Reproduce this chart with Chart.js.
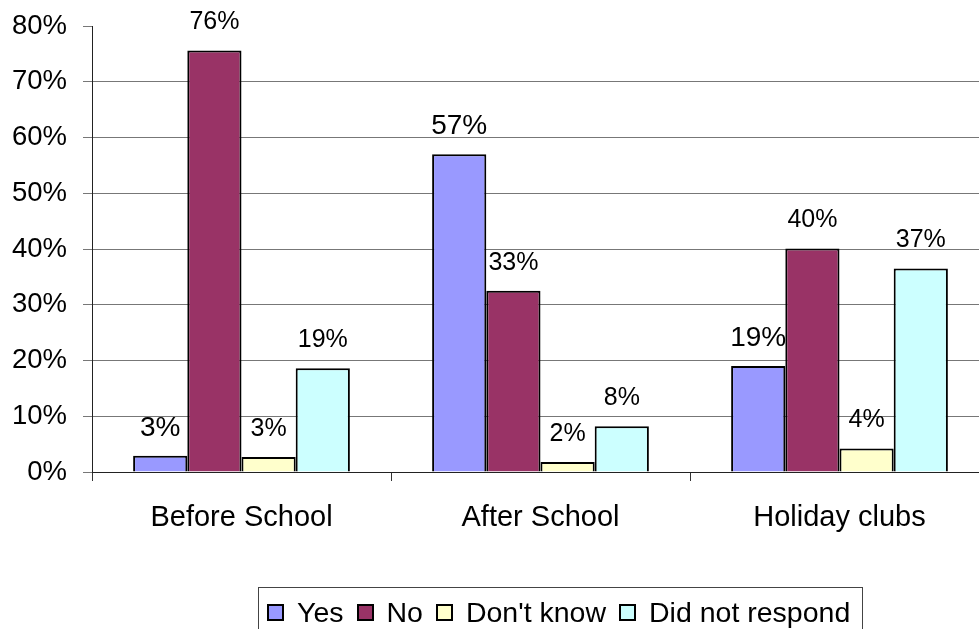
<!DOCTYPE html>
<html>
<head>
<meta charset="utf-8">
<script src="https://cdn.jsdelivr.net/npm/chart.js@4/dist/chart.umd.min.js"></script>
<style>
  html, body { margin: 0; padding: 0; background: #fff; overflow: hidden; }
  #wrap { position: relative; width: 979px; height: 629px; overflow: hidden; }
  #chart { display: block; }
  #legend {
    position: absolute; left: 258px; top: 587px; height: 48px;
    border: 1px solid #444; padding: 0 12px 0 8px;
    display: flex; align-items: center;
    font-family: "Liberation Sans", Arial, sans-serif; font-size: 28.5px; color: #000;
  }
  #legend .item { display: flex; align-items: center; margin-right: 13px; }
  #legend .item:last-child { margin-right: 0; }
  #legend .box { width: 13px; height: 13px; border: 2px solid #000; margin-right: 13px; }
</style>
</head>
<body>
<div id="wrap">
  <canvas id="chart" width="992" height="629"></canvas>
  <div id="legend"></div>
</div>
<script>
// data (percent)
const categories = ["Before School", "After School", "Holiday clubs"];
const seriesNames = ["Yes", "No", "Don't know", "Did not respond"];
const yesValues = [2.9, 57.0, 19.0];
const noValues = [75.6, 32.5, 40.1];
const dontKnowValues = [2.7, 1.8, 4.2];
const noResponseValues = [18.6, 8.2, 36.5];
const yTicks = [0, 10, 20, 30, 40, 50, 60, 70, 80];

const colours = ["#9999FF", "#993366", "#FFFFCC", "#CCFFFF"];
const labelSizes = [28, 25, 25, 25];
const font = '"Liberation Sans", Arial, sans-serif';

const allValues = [yesValues, noValues, dontKnowValues, noResponseValues];

// percent labels above each bar
const barLabels = {
  id: "barLabels",
  afterDatasetsDraw(chart) {
    const ctx = chart.ctx;
    ctx.save();
    ctx.fillStyle = "#000";
    ctx.textAlign = "center";
    ctx.textBaseline = "middle";
    chart.data.datasets.forEach((ds, i) => {
      ctx.font = labelSizes[i] + "px " + font;
      chart.getDatasetMeta(i).data.forEach((bar, j) => {
        ctx.fillText(Math.round(ds.data[j]) + "%", bar.x, bar.y - 28);
      });
    });
    ctx.restore();
  }
};

const chart = new Chart(document.getElementById("chart"), {
  type: "bar",
  data: {
    labels: categories,
    datasets: seriesNames.map((name, i) => ({
      label: name,
      data: allValues[i],
      backgroundColor: colours[i],
      borderColor: "#000",
      borderWidth: 2,
      categoryPercentage: 0.725,
      barPercentage: 1.0
    }))
  },
  options: {
    responsive: false,
    devicePixelRatio: 1,
    animation: false,
    layout: { padding: { top: 26, right: 3, left: 0, bottom: 0 } },
    plugins: {
      legend: { display: false },
      tooltip: { enabled: false }
    },
    scales: {
      x: {
        afterFit: (s) => {
          s.height = 157;
          s.paddingLeft = 0;
          s.paddingRight = 0;
        },
        border: { color: "#222", width: 1 },
        grid: {
          offset: true,
          drawOnChartArea: false,
          tickLength: 9,
          tickColor: "#333"
        },
        ticks: {
          color: "#000",
          padding: 20,
          maxRotation: 0,
          font: { family: font, size: 29 }
        }
      },
      y: {
        min: 0,
        max: 80,
        afterFit: (s) => {
          s.width = 92;
          s.paddingTop = 0;
          s.paddingBottom = 0;
        },
        afterBuildTicks: (s) => { s.ticks = yTicks.map(v => ({ value: v })); },
        border: { color: "#222", width: 1 },
        grid: {
          color: (c) => (c.tick && c.tick.value === 80) ? "rgba(0,0,0,0)" : "#777",
          tickColor: "#777",
          tickLength: 9
        },
        ticks: {
          color: "#000",
          padding: 16,
          font: { family: font, size: 27.5 },
          callback: (v) => v + "%"
        }
      }
    }
  },
  plugins: [barLabels]
});

// legend as html, built from the series
const legend = document.getElementById("legend");
seriesNames.forEach((name, i) => {
  const item = document.createElement("div");
  item.className = "item";
  const box = document.createElement("span");
  box.className = "box";
  box.style.background = colours[i];
  const txt = document.createElement("span");
  txt.textContent = name;
  item.appendChild(box);
  item.appendChild(txt);
  legend.appendChild(item);
});
</script>
</body>
</html>
